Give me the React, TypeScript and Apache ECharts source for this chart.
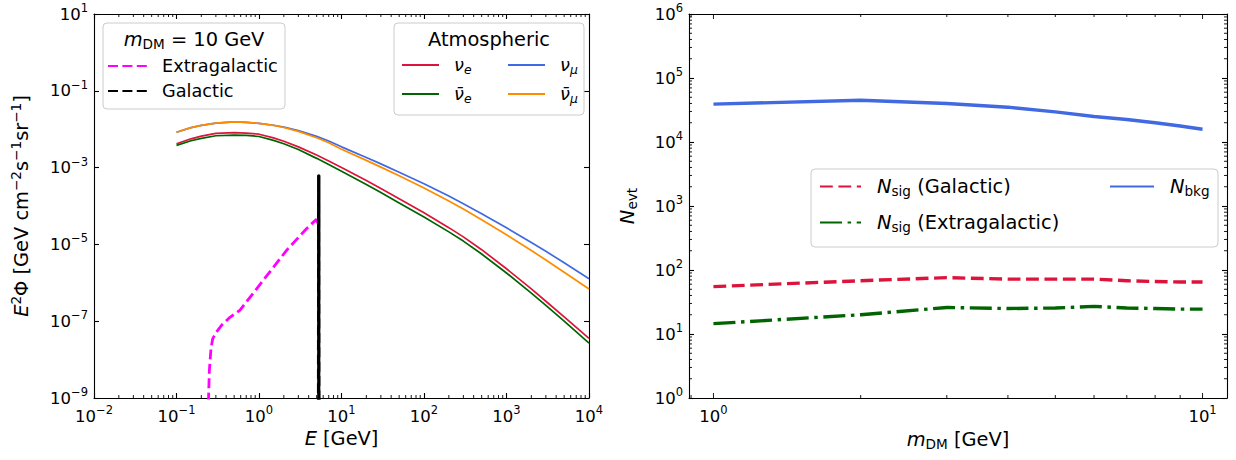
import React, { useEffect, useRef } from 'react';
import * as echarts from 'echarts';

const FONT = "'DejaVu Sans', sans-serif";

// ---------- Left panel: fluxes E^2 Phi [GeV cm^-2 s^-1 sr^-1] ----------
const E_ATM = [0.1, 0.15, 0.2, 0.3, 0.5, 0.7, 1, 1.5, 2, 3, 5, 7, 10, 20, 30, 50, 100, 200, 300, 500, 1000, 2000, 3000, 5000, 10000];
const NU_E = [4.17e-3, 5.62e-3, 6.61e-3, 7.76e-3, 8.13e-3, 7.94e-3, 7.41e-3, 5.93e-3, 4.85e-3, 3.47e-3, 2.12e-3, 1.49e-3, 1.01e-3, 4.58e-4, 2.85e-4, 1.55e-4, 6.67e-5, 2.73e-5, 1.57e-5, 7.28e-6, 2.32e-6, 6.92e-7, 3.31e-7, 1.29e-7, 3.55e-8];
const NU_MU = [8.32e-3, 1.096e-2, 1.259e-2, 1.445e-2, 1.549e-2, 1.514e-2, 1.413e-2, 1.265e-2, 1.135e-2, 9.18e-3, 6.49e-3, 4.95e-3, 3.47e-3, 1.83e-3, 1.25e-3, 7.59e-4, 3.8e-4, 1.81e-4, 1.15e-4, 6.31e-5, 2.71e-5, 1.12e-5, 6.61e-6, 3.33e-6, 1.28e-6];
const NU_E_BAR = [3.8e-3, 5.01e-3, 5.75e-3, 6.76e-3, 7.0e-3, 6.92e-3, 6.46e-3, 5.13e-3, 4.17e-3, 2.95e-3, 1.74e-3, 1.2e-3, 8.02e-4, 3.63e-4, 2.24e-4, 1.2e-4, 5.18e-5, 2.12e-5, 1.22e-5, 5.62e-6, 1.8e-6, 5.37e-7, 2.57e-7, 1.0e-7, 2.69e-8];
const NU_MU_BAR = [8.32e-3, 1.096e-2, 1.259e-2, 1.445e-2, 1.549e-2, 1.514e-2, 1.413e-2, 1.259e-2, 1.109e-2, 8.77e-3, 5.98e-3, 4.42e-3, 3.02e-3, 1.54e-3, 1.03e-3, 6.1e-4, 2.95e-4, 1.34e-4, 8.3e-5, 4.37e-5, 1.79e-5, 6.92e-6, 3.94e-6, 1.89e-6, 6.87e-7];

const E_EXG = [0.241, 0.25, 0.262, 0.275, 0.3, 0.353, 0.445, 0.589, 1.13, 2.17, 3.79, 4.9, 5.3];
const F_EXG = [3.2e-10, 5e-9, 2e-8, 3.5e-8, 5e-8, 7.9e-8, 1.26e-7, 1.95e-7, 1.17e-6, 7.1e-6, 2.6e-5, 4.4e-5, 3.3e-5];

const E_GAL = [5.28, 5.3, 5.32];
const F_GAL = [1e-10, 6.1e-4, 1e-10];

// ---------- Right panel: event numbers ----------
const M_DM = [1, 2, 3, 4, 5, 6, 7, 8, 9, 10];
const N_SIG_GAL = [55, 68, 76, 72, 72, 72, 68, 66, 65, 65];
const N_SIG_EXG = [14.5, 20, 26, 25, 25.5, 27, 25.5, 25, 24.5, 24.5];
const N_BKG = [39000, 45000, 40000, 35000, 29500, 25000, 22500, 20000, 17800, 15800];

// axis ranges (decades)
const LX = [-2, 4];
const LY = [-9, 1];
const RX = [-0.05, 1.05];
const RY = [0, 6];

const lg = Math.log10;
const pairs = (xs: number[], ys: number[]) => xs.map((x, i) => [lg(x), lg(ys[i])]);

const supTxt = (v: number) => {
  const n = Math.round(v);
  return n < 0 ? '\u2212' + -n : String(n);
};
const tickLabel = (v: number) =>
  Math.abs(v - Math.round(v)) > 1e-6 ? '' : `{b|10}{s|${supTxt(v)}}`;

const labelRich = {
  b: { fontSize: 16.5, fontFamily: FONT, color: '#000' },
  s: { fontSize: 11.5, fontFamily: FONT, color: '#000', padding: [0, 0, 12, 0] },
};

const minorVals = (from: number, to: number, lo: number, hi: number) => {
  const out: number[] = [];
  for (let n = from; n <= to; n++) {
    for (let k = 2; k <= 9; k++) {
      const v = n + lg(k);
      if (v > lo + 1e-9 && v < hi - 1e-9) out.push(v);
    }
  }
  return out;
};

const tickSeries = (gi: number, dim: 'x' | 'y', vals: number[], len: number) => ({
  type: 'custom',
  xAxisIndex: gi * 2,
  yAxisIndex: gi * 2,
  silent: true,
  z: 6,
  clip: false,
  data: vals.map((v) => (dim === 'x' ? [v, gi === 0 ? LY[0] : RY[0]] : [gi === 0 ? LX[0] : RX[0], v])),
  encode: { x: 0, y: 1 },
  renderItem: (params: any, api: any) => {
    const cs = params.coordSys;
    const p = api.coord([api.value(0), api.value(1)]);
    const st = { stroke: '#000', lineWidth: 0.9 };
    if (dim === 'x') {
      const yb = cs.y + cs.height;
      return {
        type: 'group',
        children: [
          { type: 'line', shape: { x1: p[0], y1: yb, x2: p[0], y2: yb - len }, style: st },
          { type: 'line', shape: { x1: p[0], y1: cs.y, x2: p[0], y2: cs.y + len }, style: st },
        ],
      };
    }
    const xr = cs.x + cs.width;
    return {
      type: 'group',
      children: [
        { type: 'line', shape: { x1: cs.x, y1: p[1], x2: cs.x + len, y2: p[1] }, style: st },
        { type: 'line', shape: { x1: xr, y1: p[1], x2: xr - len, y2: p[1] }, style: st },
      ],
    };
  },
});

const axisBase = (gi: number, extra: any) => ({
  type: 'value',
  gridIndex: gi,
  axisLine: { show: true, onZero: false, lineStyle: { color: '#000', width: 1.1 } },
  axisTick: { show: true, inside: true, length: 5, lineStyle: { color: '#000', width: 1.1 } },
  splitLine: { show: false },
  axisLabel: { show: false },
  ...extra,
});

const line = (name: string, xs: number[], ys: number[], color: string, width: number, type: any, gi: number, z = 2) => ({
  type: 'line',
  name,
  data: pairs(xs, ys),
  xAxisIndex: gi * 2,
  yAxisIndex: gi * 2,
  symbol: 'none',
  showSymbol: false,
  lineStyle: { color, width, type, cap: 'butt', join: 'round' },
  itemStyle: { color },
  clip: true,
  silent: true,
  z,
});

const legendRich = (fs: number, sp: number) => ({
  sp: { width: sp, fontSize: fs, fontFamily: FONT },
  t: { fontSize: fs, fontFamily: FONT, color: '#000' },
  i: { fontSize: fs, fontFamily: FONT, fontStyle: 'italic', color: '#000' },
  sub: { fontSize: fs * 0.7, fontFamily: FONT, fontStyle: 'italic', color: '#000', padding: [8, 0, 0, 0] },
  subr: { fontSize: fs * 0.7, fontFamily: FONT, color: '#000', padding: [8, 0, 0, 0] },
});

const LEGEND_TXT: Record<string, string> = {
  exg: '{sp| }{t|Extragalactic}',
  gal: '{sp| }{t|Galactic}',
  nue: '{sp| }{i|\u03bd}{sub|e}',
  numu: '{sp| }{i|\u03bd}{sub|\u03bc}',
  nuebar: '{sp| }{i|\u03bd\u0304}{sub|e}',
  numubar: '{sp| }{i|\u03bd\u0304}{sub|\u03bc}',
  sigGal: '{sp| }{i|N}{subr|sig}{t| (Galactic)}',
  sigExg: '{sp| }{i|N}{subr|sig}{t| (Extragalactic)}',
  bkg: '{sp| }{i|N}{subr|bkg}',
};

const legend = (data: string[], left: number, top: number, iw: number, fs: number, sp: number, lh: number, gap: number) => ({
  data,
  orient: 'vertical',
  left,
  top,
  itemWidth: iw,
  itemHeight: 12,
  itemGap: gap,
  padding: 0,
  selectedMode: false,
  z: 8,
  itemStyle: { opacity: 0 },
  formatter: (n: string) => LEGEND_TXT[n],
  textStyle: { fontFamily: FONT, fontSize: fs, color: '#000', lineHeight: lh, rich: legendRich(fs, sp) },
});

const frame = (x: number, y: number, w: number, h: number) => ({
  type: 'rect',
  z: 5,
  shape: { x, y, width: w, height: h, r: 4 },
  style: { fill: 'rgba(255,255,255,0.8)', stroke: '#cccccc', lineWidth: 1 },
});

function buildOption() {
  const titleRich = {
    i: { fontSize: 19.4, fontFamily: FONT, fontStyle: 'italic', fill: '#000' },
    sub: { fontSize: 13.6, fontFamily: FONT, fill: '#000', padding: [9, 0, 0, 0] },
    n: { fontSize: 19.4, fontFamily: FONT, fill: '#000' },
  };
  const nameRich = {
    i: { fontSize: 19.4, fontFamily: FONT, fontStyle: 'italic', color: '#000' },
    n: { fontSize: 19.4, fontFamily: FONT, color: '#000' },
    sup: { fontSize: 13.6, fontFamily: FONT, color: '#000', padding: [0, 0, 11, 0] },
    sub: { fontSize: 13.6, fontFamily: FONT, color: '#000', padding: [9, 0, 0, 0] },
  };
  return {
    animation: false,
    backgroundColor: '#fff',
    textStyle: { fontFamily: FONT },
    grid: [
      { left: 94, top: 14, width: 495, height: 384 },
      { left: 689, top: 14, width: 538, height: 384 },
    ],
    xAxis: [
      axisBase(0, {
        position: 'bottom', min: LX[0], max: LX[1], interval: 1,
        axisLabel: { show: true, formatter: tickLabel, rich: labelRich, margin: 6 },
        name: '{i|E}{n| [GeV]}', nameLocation: 'middle', nameGap: 30,
        nameTextStyle: { rich: nameRich },
      }),
      axisBase(0, { position: 'top', min: LX[0], max: LX[1], interval: 1 }),
      axisBase(1, {
        position: 'bottom', min: RX[0], max: RX[1], minInterval: 1, maxInterval: 1,
        axisTick: { show: false },
        axisLabel: { show: true, formatter: tickLabel, rich: labelRich, margin: 6, showMinLabel: false, showMaxLabel: false },
        name: '{i|m}{sub|DM}{n| [GeV]}', nameLocation: 'middle', nameGap: 30,
        nameTextStyle: { rich: nameRich },
      }),
      axisBase(1, { position: 'top', min: RX[0], max: RX[1], minInterval: 1, maxInterval: 1, axisTick: { show: false } }),
    ],
    yAxis: [
      axisBase(0, {
        position: 'left', min: LY[0], max: LY[1], interval: 2,
        axisLabel: { show: true, formatter: tickLabel, rich: labelRich, margin: 6 },
        name: '{i|E}{sup|2}{n|\u03a6 [GeV cm}{sup|\u22122}{n|s}{sup|\u22121}{n|sr}{sup|\u22121}{n|]}',
        nameLocation: 'middle', nameRotate: 90, nameGap: 60,
        nameTextStyle: { rich: nameRich },
      }),
      axisBase(0, { position: 'right', min: LY[0], max: LY[1], interval: 2 }),
      axisBase(1, {
        position: 'left', min: RY[0], max: RY[1], interval: 1,
        axisLabel: { show: true, formatter: tickLabel, rich: labelRich, margin: 6 },
        name: '{i|N}{sub|evt}', nameLocation: 'middle', nameRotate: 90, nameGap: 50,
        nameTextStyle: { rich: nameRich },
      }),
      axisBase(1, { position: 'right', min: RY[0], max: RY[1], interval: 1 }),
    ],
    legend: [
      legend(['exg', 'gal'], 107, 55, 40, 17.7, 9, 22, 3),
      legend(['nue', 'nuebar'], 401, 54, 37, 17.7, 10, 22, 7),
      legend(['numu', 'numubar'], 507, 54, 37, 17.7, 10, 22, 7),
      legend(['sigGal', 'sigExg'], 819, 174, 41, 19.4, 11, 25, 11),
      legend(['bkg'], 1109, 174, 44, 19.4, 11, 25, 11),
    ],
    graphic: [
      frame(103, 23, 182, 86),
      frame(394, 23, 190, 92),
      frame(811, 169, 407, 78),
      {
        type: 'text', z: 9, x: 194, y: 39,
        style: { text: '{i|m}{sub|DM}{n| = 10 GeV}', rich: titleRich, align: 'center', verticalAlign: 'middle', fill: '#000' },
      },
      {
        type: 'text', z: 9, x: 489, y: 39,
        style: { text: 'Atmospheric', fontSize: 19.4, fontFamily: FONT, align: 'center', verticalAlign: 'middle', fill: '#000' },
      },
    ],
    series: [
      line('nue', E_ATM, NU_E, '#dc143c', 1.7, 'solid', 0),
      line('numu', E_ATM, NU_MU, '#4169e1', 1.7, 'solid', 0),
      line('nuebar', E_ATM, NU_E_BAR, '#006400', 1.7, 'solid', 0),
      line('numubar', E_ATM, NU_MU_BAR, '#ff8c00', 1.7, 'solid', 0),
      line('exg', E_EXG, F_EXG, '#ff00ff', 2.8, [10, 4.4], 0, 3),
      line('gal', E_GAL, F_GAL, '#000000', 3.4, [10, 4.4], 0, 4),
      line('sigGal', M_DM, N_SIG_GAL, '#dc143c', 3.4, [12.8, 5.6], 1),
      line('sigExg', M_DM, N_SIG_EXG, '#006400', 3.4, [22, 5.6, 3.5, 5.6], 1),
      line('bkg', M_DM, N_BKG, '#4169e1', 3.4, 'solid', 1),
      tickSeries(0, 'x', minorVals(-2, 3, LX[0], LX[1]), 3),
      tickSeries(1, 'x', [0, 1], 5),
      tickSeries(1, 'x', minorVals(-1, 0, RX[0], RX[1]), 3),
      tickSeries(1, 'y', minorVals(0, 5, RY[0], RY[1]), 3),
    ],
  };
}

export default function App() {
  const ref = useRef<HTMLDivElement>(null);
  useEffect(() => {
    if (!ref.current) return;
    const chart = echarts.init(ref.current, null, { renderer: 'svg' });
    chart.setOption(buildOption() as any);
    return () => chart.dispose();
  }, []);
  return (
    <div
      ref={ref}
      style={{ position: 'fixed', left: 0, top: 0, width: 1236, height: 460, background: '#fff' }}
    />
  );
}
